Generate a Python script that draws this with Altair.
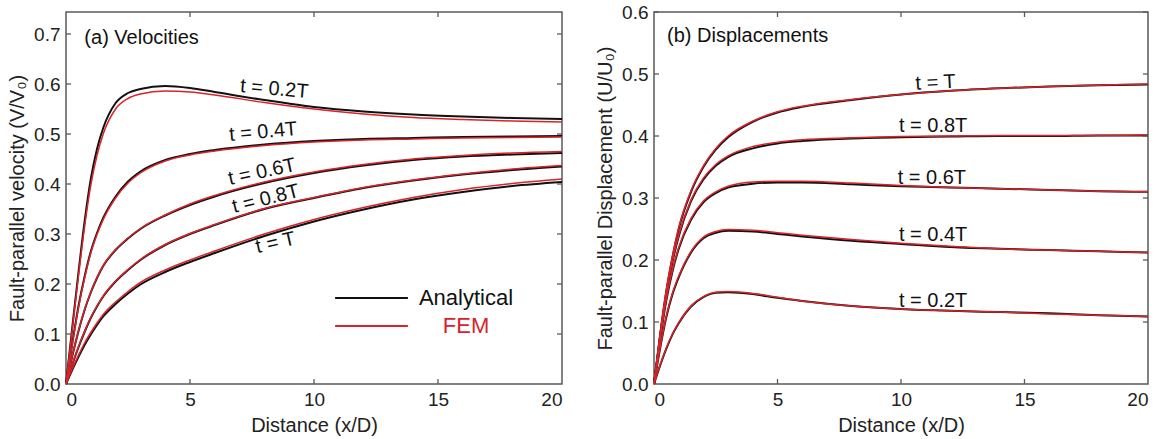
import altair as alt
import pandas as pd

# ---------------- data ----------------
CURVES = ["0.2T", "0.4T", "0.6T", "0.8T", "T"]

X_VEL = [0, 0.25, 0.5, 0.75, 1, 1.25, 1.5, 2, 2.5, 3, 4, 5, 6, 8, 10, 12, 14, 16, 18, 20]
VEL_ANALYTICAL = [
    [0, 0.112, 0.222, 0.325, 0.410, 0.470, 0.512, 0.562, 0.582, 0.590, 0.596, 0.592, 0.584, 0.568, 0.554, 0.545, 0.539, 0.535, 0.532, 0.530],
    [0, 0.080, 0.155, 0.215, 0.265, 0.302, 0.332, 0.375, 0.405, 0.425, 0.448, 0.460, 0.468, 0.479, 0.486, 0.490, 0.492, 0.494, 0.495, 0.496],
    [0, 0.055, 0.105, 0.148, 0.183, 0.212, 0.236, 0.268, 0.291, 0.310, 0.337, 0.358, 0.375, 0.402, 0.422, 0.437, 0.448, 0.455, 0.459, 0.462],
    [0, 0.038, 0.073, 0.104, 0.132, 0.155, 0.175, 0.205, 0.228, 0.248, 0.278, 0.300, 0.318, 0.350, 0.372, 0.392, 0.407, 0.419, 0.428, 0.435],
    [0, 0.028, 0.054, 0.078, 0.099, 0.118, 0.135, 0.160, 0.181, 0.199, 0.224, 0.244, 0.262, 0.296, 0.325, 0.349, 0.369, 0.384, 0.396, 0.404],
]
VEL_FEM = [
    [0, 0.108, 0.215, 0.315, 0.398, 0.457, 0.500, 0.550, 0.571, 0.580, 0.586, 0.584, 0.578, 0.563, 0.550, 0.540, 0.533, 0.529, 0.526, 0.524],
    [0, 0.078, 0.152, 0.212, 0.262, 0.299, 0.329, 0.372, 0.402, 0.422, 0.446, 0.458, 0.466, 0.477, 0.484, 0.488, 0.490, 0.492, 0.493, 0.494],
    [0, 0.056, 0.106, 0.149, 0.184, 0.213, 0.237, 0.269, 0.292, 0.311, 0.338, 0.360, 0.377, 0.404, 0.424, 0.439, 0.450, 0.457, 0.462, 0.465],
    [0, 0.039, 0.074, 0.105, 0.133, 0.156, 0.176, 0.206, 0.229, 0.249, 0.279, 0.301, 0.319, 0.351, 0.373, 0.393, 0.408, 0.420, 0.430, 0.437],
    [0, 0.030, 0.057, 0.082, 0.103, 0.122, 0.139, 0.164, 0.185, 0.203, 0.228, 0.248, 0.266, 0.300, 0.329, 0.353, 0.373, 0.389, 0.401, 0.410],
]

X_DISP = [0, 0.25, 0.5, 0.75, 1, 1.5, 2, 2.5, 3, 4, 5, 6, 8, 10, 12, 14, 16, 18, 20]
DISP_ANALYTICAL = [
    [0, 0.030, 0.057, 0.080, 0.098, 0.125, 0.140, 0.147, 0.148, 0.145, 0.139, 0.134, 0.126, 0.121, 0.118, 0.116, 0.114, 0.111, 0.109],
    [0, 0.058, 0.108, 0.145, 0.172, 0.212, 0.235, 0.244, 0.247, 0.246, 0.242, 0.238, 0.231, 0.226, 0.221, 0.218, 0.216, 0.214, 0.212],
    [0, 0.072, 0.135, 0.182, 0.218, 0.265, 0.293, 0.308, 0.317, 0.323, 0.325, 0.325, 0.322, 0.319, 0.317, 0.315, 0.313, 0.311, 0.310],
    [0, 0.078, 0.145, 0.197, 0.238, 0.295, 0.330, 0.352, 0.366, 0.380, 0.388, 0.392, 0.396, 0.398, 0.399, 0.400, 0.400, 0.401, 0.401],
    [0, 0.080, 0.150, 0.205, 0.250, 0.310, 0.350, 0.378, 0.398, 0.423, 0.438, 0.447, 0.458, 0.467, 0.473, 0.477, 0.480, 0.482, 0.483],
]
DISP_FEM = [
    [0, 0.031, 0.058, 0.081, 0.099, 0.126, 0.141, 0.148, 0.149, 0.146, 0.140, 0.134, 0.126, 0.121, 0.118, 0.116, 0.113, 0.111, 0.109],
    [0, 0.059, 0.110, 0.147, 0.174, 0.214, 0.237, 0.246, 0.249, 0.248, 0.244, 0.240, 0.233, 0.227, 0.222, 0.218, 0.216, 0.214, 0.212],
    [0, 0.073, 0.137, 0.184, 0.220, 0.267, 0.295, 0.310, 0.319, 0.326, 0.327, 0.327, 0.324, 0.320, 0.317, 0.315, 0.313, 0.311, 0.310],
    [0, 0.079, 0.147, 0.199, 0.240, 0.297, 0.332, 0.354, 0.368, 0.383, 0.390, 0.394, 0.397, 0.399, 0.400, 0.401, 0.401, 0.401, 0.402],
    [0, 0.081, 0.152, 0.207, 0.252, 0.312, 0.352, 0.380, 0.400, 0.424, 0.439, 0.448, 0.459, 0.467, 0.473, 0.477, 0.480, 0.482, 0.484],
]

VEL_TEXT = ["t = 0.2T", "t = 0.4T", "t = 0.6T", "t = 0.8T", "t = T"]
VEL_TEXT_X = [8.4, 7.95, 7.9, 8.05, 8.45]
VEL_TEXT_Y = [0.590, 0.504, 0.424, 0.370, 0.282]
VEL_TEXT_ANGLE = [5, 355, 348, 346, 347]

DISP_TEXT = ["t = T", "t = 0.8T", "t = 0.6T", "t = 0.4T", "t = 0.2T"]
DISP_TEXT_X = [11.4, 11.3, 11.25, 11.3, 11.3]
DISP_TEXT_Y = [0.486, 0.416, 0.332, 0.240, 0.134]
DISP_TEXT_ANGLE = [357, 0, 0, 0, 0]

PANEL_TITLES = ["(a) Velocities", "(b) Displacements"]
X_TICKS = [0, 5, 10, 15, 20]
VEL_TICKS = [0.0, 0.1, 0.2, 0.3, 0.4, 0.5, 0.6, 0.7]
DISP_TICKS = [0.0, 0.1, 0.2, 0.3, 0.4, 0.5, 0.6]
MODELS = ["Analytical", "FEM"]

# ---------------- styling ----------------
FONT = "Liberation Sans"
RED = "#d8232a"
BLACK = "#111111"
FRAME = "#5a5a5a"
W_L, W_R, H = 496, 494, 372
TICK_LEN = 5


def long_df(xs, analytical, fem):
    rows = []
    for name, ys in zip(CURVES, analytical):
        for x, y in zip(xs, ys):
            rows.append({"x": x, "y": y, "curve": name, "model": "Analytical"})
    for name, ys in zip(CURVES, fem):
        for x, y in zip(xs, ys):
            rows.append({"x": x, "y": y, "curve": name, "model": "FEM"})
    return pd.DataFrame(rows)


def panel(xs, analytical, fem, ymax, yticks, ytitle, texts, tx, ty, tang,
          ptitle, ptx, pty, width, show_legend):
    df = long_df(xs, analytical, fem)
    xsc = alt.Scale(domain=[0, 20], nice=False)
    ysc = alt.Scale(domain=[0, ymax], nice=False)
    xax = alt.Axis(values=X_TICKS, title="Distance (x/D)", format="d")
    yax = alt.Axis(values=yticks, title=ytitle, format=".1f")
    X = alt.X("x:Q", scale=xsc, axis=xax)
    Y = alt.Y("y:Q", scale=ysc, axis=yax)

    if show_legend:
        legend = alt.Legend(
            title=None, orient="none", legendX=268, legendY=274,
            symbolType="stroke", symbolSize=5300, symbolStrokeWidth=2,
            clipHeight=24, rowPadding=4,
            labelFont=FONT, labelFontSize=22, labelAlign="center",
            labelOffset=57,
            labelColor=alt.ExprRef(expr="datum.label === 'FEM' ? '%s' : '#111111'" % RED),
        )
    else:
        legend = None
    color = alt.Color("model:N", scale=alt.Scale(domain=MODELS, range=[BLACK, RED]),
                      legend=legend)

    ana = alt.Chart(df[df.model == "Analytical"]).mark_line(
        interpolate="monotone", strokeWidth=2.0).encode(x=X, y=Y, color=color, detail="curve:N")
    fe = alt.Chart(df[df.model == "FEM"]).mark_line(
        interpolate="monotone", strokeWidth=1.5).encode(x=X, y=Y, color=color, detail="curve:N")

    lab = pd.DataFrame({"x": tx, "y": ty, "text": texts, "angle": tang})
    labels = alt.Chart(lab).mark_text(font=FONT, fontSize=20, color="#111",
                                      align="center", baseline="middle").encode(
        x=X, y=Y, text="text:N", angle=alt.Angle("angle:Q", scale=None))

    ttl = pd.DataFrame({"x": [ptx], "y": [pty], "text": [ptitle]})
    title = alt.Chart(ttl).mark_text(font=FONT, fontSize=20, color="#111",
                                     align="left", baseline="middle").encode(
        x=X, y=Y, text="text:N")

    xt = pd.DataFrame({"x": X_TICKS[1:-1]})
    yt = pd.DataFrame({"y": yticks[1:]})
    rule = dict(color=FRAME, strokeWidth=1.3)
    bt = alt.Chart(xt).mark_rule(**rule).encode(x=X, y=alt.value(H), y2=alt.value(H - TICK_LEN))
    tt = alt.Chart(xt).mark_rule(**rule).encode(x=X, y=alt.value(0), y2=alt.value(TICK_LEN))
    lt = alt.Chart(yt).mark_rule(**rule).encode(y=Y, x=alt.value(0), x2=alt.value(TICK_LEN))
    rt = alt.Chart(yt).mark_rule(**rule).encode(y=Y, x=alt.value(width), x2=alt.value(width - TICK_LEN))

    return alt.layer(ana, fe, labels, title, bt, tt, lt, rt).properties(width=width, height=H)


left = panel(X_VEL, VEL_ANALYTICAL, VEL_FEM, 0.744, VEL_TICKS,
             "Fault-parallel velocity (V/V₀)", VEL_TEXT, VEL_TEXT_X, VEL_TEXT_Y,
             VEL_TEXT_ANGLE, PANEL_TITLES[0], 0.74, 0.692, W_L, True)
right = panel(X_DISP, DISP_ANALYTICAL, DISP_FEM, 0.6, DISP_TICKS,
              "Fault-parallel Displacement (U/U₀)", DISP_TEXT, DISP_TEXT_X, DISP_TEXT_Y,
              DISP_TEXT_ANGLE, PANEL_TITLES[1], 0.53, 0.561, W_R, False)

chart = alt.hconcat(left, right, spacing=92, bounds="flush").resolve_scale(
    color="independent", y="independent"
).resolve_legend(color="independent").properties(
    padding={"left": 6, "top": 2, "right": 5, "bottom": 2}, background="white"
).configure_view(stroke=FRAME, strokeWidth=1.5).configure_axis(
    domain=False, ticks=False, grid=False, labelFont=FONT, labelFontSize=19,
    labelColor="#222", titleFont=FONT, titleFontSize=20, titleFontWeight="normal",
    titleColor="#222", labelPadding=6, titlePadding=6,
)

chart.save("out.html", embed_options={"renderer": "svg", "actions": False})
